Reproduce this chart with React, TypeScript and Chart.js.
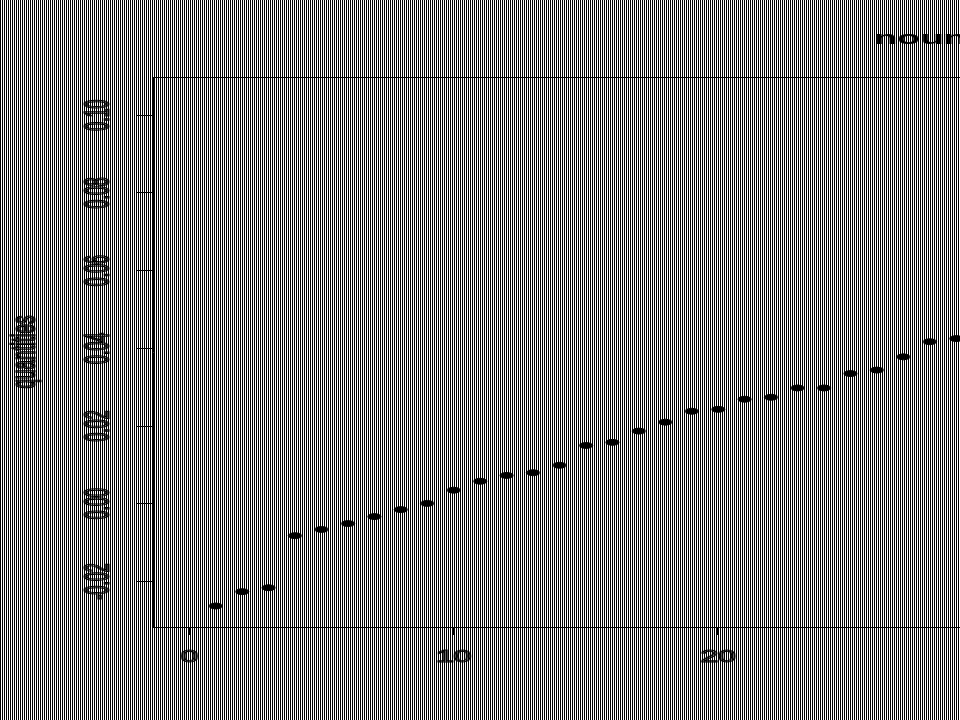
import React, { useEffect, useRef } from "react";
import { Chart, registerables } from "chart.js";

Chart.register(...registerables);

// ---- data ----
const xValues = [1, 2, 3, 4, 5, 6, 7, 8, 9, 10, 11, 12, 13, 14, 15, 16, 17, 18, 19, 20, 21, 22, 23, 24, 25, 26, 27, 28, 29];
const yValues = [
  -0.0263, -0.0226, -0.0216, -0.0082, -0.0066, -0.0051, -0.0033, -0.0015, 0.0001, 0.0035,
  0.0058, 0.0073, 0.0080, 0.0099, 0.0150, 0.0158, 0.0187, 0.0210, 0.0238, 0.0243,
  0.0269, 0.0274, 0.0298, 0.0298, 0.0335, 0.0344, 0.0378, 0.0417, 0.0425,
];
const xRange = [-1.39, 65.08];
const yRange = [-0.0317, 0.1098];
const xTickStep = 10;
const yTickStep = 0.02;
const chartTitle = "noun rate";
const yAxisTitle = "quantities";

const FONT_FAMILY = "'Liberation Sans', Arial, sans-serif";

export default function App() {
  const ref = useRef<HTMLCanvasElement>(null);

  useEffect(() => {
    document.body.style.margin = "0";
    const canvas = ref.current;
    if (!canvas) return;

    const framePlugin = {
      id: "frameAndOutlineTitle",
      afterDraw(chart: any) {
        const ctx = chart.ctx;
        const area = chart.chartArea;
        const ys = chart.scales.y;
        ctx.save();
        ctx.strokeStyle = "#000";
        ctx.lineWidth = 1;
        ctx.beginPath();
        ctx.moveTo(area.left, area.top + 0.5);
        ctx.lineTo(area.right, area.top + 0.5);
        ctx.stroke();
        // outlined y-axis title, at the place Chart.js reserved for it
        const size = 17;
        ctx.font = `${size}px ${FONT_FAMILY}`;
        ctx.translate(ys.left + 3 + 16 * 1.2 / 2, (area.top + area.bottom) / 2);
        ctx.rotate(-Math.PI / 2);
        ctx.textAlign = "center";
        ctx.textBaseline = "middle";
        ctx.strokeText(yAxisTitle, 0, 0);
        ctx.restore();
      },
    };

    const chart = new Chart(canvas, {
      type: "scatter",
      data: {
        datasets: [
          {
            data: xValues.map((x, i) => ({ x, y: yValues[i] })),
            backgroundColor: "#000",
            borderColor: "#000",
            pointRadius: 3,
            borderWidth: 1,
          },
        ],
      },
      options: {
        responsive: false,
        animation: false,
        font: { family: FONT_FAMILY, size: 16 },
        layout: { padding: { left: 0, right: 0, top: 0, bottom: 39.8 } },
        plugins: {
          legend: { display: false },
          tooltip: { enabled: false },
          title: {
            display: true,
            text: chartTitle,
            color: "#000",
            font: { family: FONT_FAMILY, size: 19, weight: "bold" },
            padding: { top: 27.2, bottom: 27 },
          },
        },
        scales: {
          x: {
            type: "linear",
            min: xRange[0],
            max: xRange[1],
            border: { display: true, color: "#000", width: 1 },
            grid: { display: true, drawOnChartArea: false, color: "#000", tickLength: 8 },
            ticks: {
              stepSize: xTickStep,
              includeBounds: false,
              maxRotation: 0,
              padding: 13,
              color: "rgba(0,0,0,0)",
              textStrokeColor: "#000",
              textStrokeWidth: 1,
              font: { family: FONT_FAMILY, size: 16 },
            },
          },
          y: {
            type: "linear",
            min: yRange[0],
            max: yRange[1],
            afterFit: (scale: any) => {
              scale.width = 76;
            },
            border: { display: true, color: "#000", width: 1 },
            grid: { display: true, drawOnChartArea: false, color: "#000", tickLength: 8 },
            title: {
              display: true,
              text: yAxisTitle,
              color: "rgba(0,0,0,0)",
              font: { family: FONT_FAMILY, size: 16 },
              padding: { top: 3, bottom: 4 },
            },
            ticks: {
              stepSize: yTickStep,
              includeBounds: false,
              minRotation: 90,
              maxRotation: 90,
              crossAlign: "center",
              padding: 0,
              color: "rgba(0,0,0,0)",
              textStrokeColor: "#000",
              textStrokeWidth: 1,
              font: { family: FONT_FAMILY, size: 16 },
              callback: (v: any) => Number(v).toFixed(2),
            },
          },
        },
      },
      plugins: [framePlugin],
    } as any);

    return () => chart.destroy();
  }, []);

  return (
    <div
      style={{
        width: 960,
        height: 720,
        overflow: "hidden",
        background: "repeating-linear-gradient(90deg, #000 0px, #000 1px, #fff 1px, #fff 2px)",
      }}
    >
      <canvas
        ref={ref}
        width={960}
        height={720}
        style={{ width: 1920, height: 720, imageRendering: "pixelated" }}
      />
    </div>
  );
}
